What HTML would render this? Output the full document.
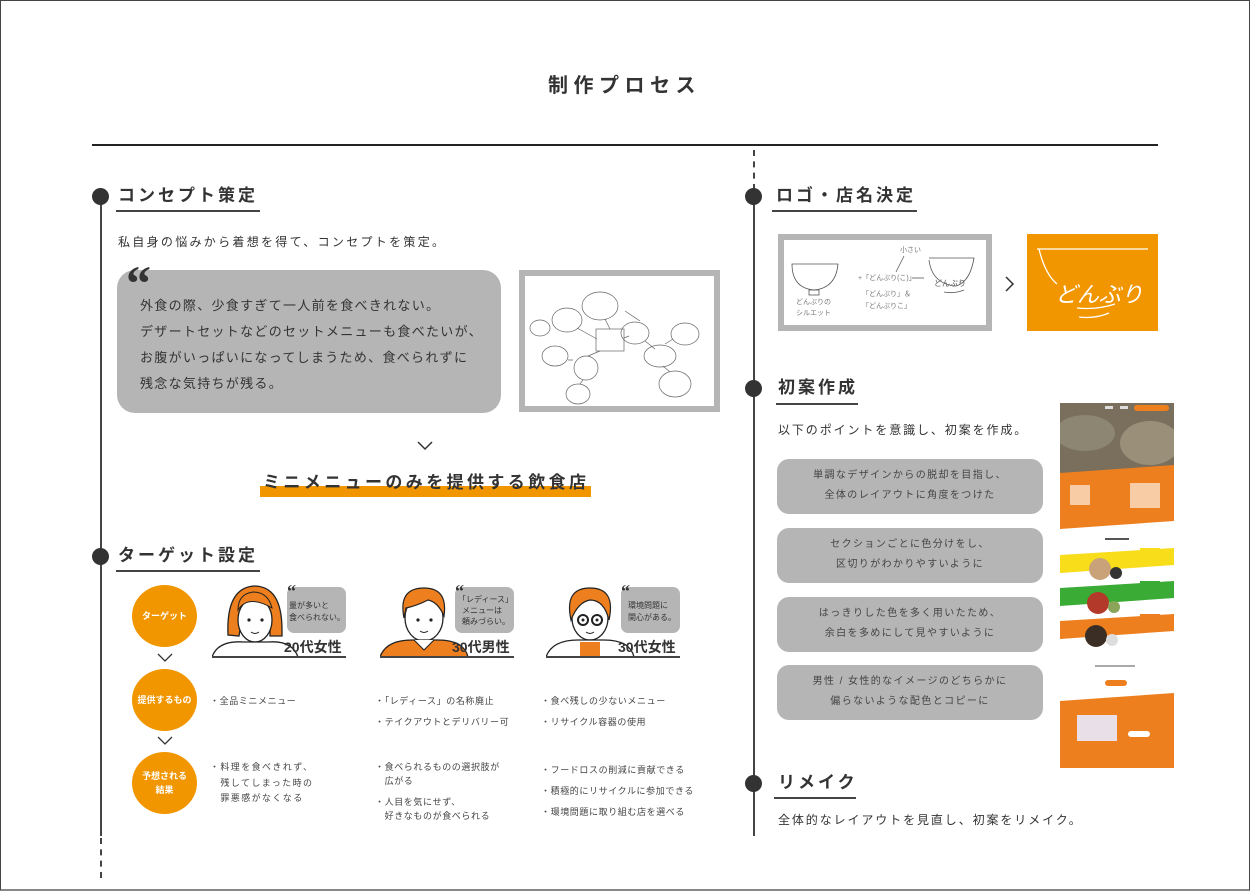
<!DOCTYPE html>
<html><head><meta charset="utf-8">
<style>
*{margin:0;padding:0;box-sizing:border-box}
body{width:1250px;height:891px;position:relative;background:#fff;font-family:"Liberation Sans","Noto Sans CJK JP",sans-serif;color:#333;overflow:hidden}
.a{position:absolute}
.t{position:absolute;white-space:nowrap;line-height:1}
.h{font-size:17px;font-weight:bold;letter-spacing:3px;color:#333}
.ul{position:absolute;height:2px;background:#444}
.dot{position:absolute;width:17px;height:17px;border-radius:50%;background:#333}
.gbox{position:absolute;background:#b5b5b5;border-radius:12px}
.c{position:absolute;width:64px;height:64px;border-radius:50%;background:#f29600;color:#fff;font-size:9px;font-weight:bold;display:flex;align-items:center;justify-content:center;text-align:center;line-height:1.6}
.s{font-size:9px;letter-spacing:0.6px;color:#444;line-height:1.55}
.bt{font-size:10px;letter-spacing:1.4px;color:#444;text-align:center;width:266px;line-height:2;position:absolute}
</style></head><body>
<div class="a" style="left:0;top:0;width:1250px;height:891px;border:1px solid #444;border-bottom:2px solid #888"></div>
<div class="t" style="left:548px;top:76px;font-size:20px;font-weight:bold;letter-spacing:5.5px">制作プロセス</div>
<div class="a" style="left:92px;top:144px;width:1066px;height:1.5px;background:#222"></div>

<div class="a" style="left:100px;top:196px;width:2px;height:640px;background:#444"></div>
<div class="a" style="left:100px;top:838px;width:0;height:40px;border-left:2px dashed #444"></div>
<div class="dot" style="left:92px;top:188px"></div>
<div class="dot" style="left:92px;top:548px"></div>

<div class="t h" style="left:118px;top:187px">コンセプト策定</div>
<div class="ul" style="left:116px;top:210px;width:144px"></div>
<div class="t" style="left:118px;top:236px;font-size:12px;letter-spacing:2.3px">私自身の悩みから着想を得て、コンセプトを策定。</div>

<div class="gbox" style="left:117px;top:270px;width:384px;height:143px;border-radius:18px"></div>
<div class="t" style="left:126px;top:258px;font-size:50px;font-weight:bold;font-family:'Liberation Serif',serif;color:#333">&ldquo;</div>
<div class="a" style="left:140px;top:293px;font-size:13px;letter-spacing:1.3px;line-height:26px;color:#333;white-space:nowrap">外食の際、少食すぎて一人前を食べきれない。<br>デザートセットなどのセットメニューも食べたいが、<br>お腹がいっぱいになってしまうため、食べられずに<br>残念な気持ちが残る。</div>

<div class="a" style="left:519px;top:270px;width:201px;height:142px;border:6px solid #b5b5b5;background:#fff"></div>
<svg class="a" style="left:525px;top:276px" width="189" height="130" viewBox="0 0 189 130" fill="none" stroke="#666" stroke-width="0.7">
<ellipse cx="75" cy="30" rx="18" ry="14"/><ellipse cx="42" cy="44" rx="15" ry="12"/><ellipse cx="15" cy="52" rx="10" ry="8"/>
<ellipse cx="110" cy="57" rx="14" ry="11"/><rect x="71" y="53" width="28" height="22"/><ellipse cx="160" cy="58" rx="14" ry="11"/>
<ellipse cx="30" cy="80" rx="13" ry="10"/><ellipse cx="61" cy="92" rx="12" ry="12"/><ellipse cx="135" cy="80" rx="16" ry="11"/>
<ellipse cx="150" cy="108" rx="16" ry="13"/><ellipse cx="53" cy="118" rx="12" ry="10"/>
<path d="M85 53 L80 43 M72 63 L52 52 M99 62 L104 60 M115 45 L100 35 M130 73 L120 65 M140 68 L148 63 M138 90 L145 96 M63 80 L75 75 M48 84 L43 84 M58 104 L55 108"/></svg>

<svg class="a" style="left:417px;top:441px" width="16" height="10"><path d="M1 1 L8 8 L15 1" stroke="#333" stroke-width="1.5" fill="none"/></svg>
<div class="a" style="left:260px;top:486px;width:331px;height:11px;background:#f29600"></div>
<div class="t" style="left:263px;top:474px;font-size:17px;font-weight:bold;letter-spacing:3.4px;color:#333">ミニメニューのみを提供する飲食店</div>

<div class="t h" style="left:118px;top:547px">ターゲット設定</div>
<div class="ul" style="left:116px;top:570px;width:144px"></div>

<div class="c" style="left:132px;top:585px;width:65px;height:62px">ターゲット</div>
<div class="c" style="left:132px;top:669px;width:65px;height:62px">提供するもの</div>
<div class="c" style="left:132px;top:752px;width:65px;height:62px">予想される<br>結果</div>
<svg class="a" style="left:157px;top:653px" width="16" height="10"><path d="M1 1 L8 8 L15 1" stroke="#333" stroke-width="1.3" fill="none"/></svg>
<svg class="a" style="left:157px;top:736px" width="16" height="10"><path d="M1 1 L8 8 L15 1" stroke="#333" stroke-width="1.3" fill="none"/></svg>

<svg class="a" style="left:212px;top:580px" width="140" height="80">
<path d="M16 55 Q14 8 42 6 Q70 6 70 50 L70 56 L58 56 L58 30 Q42 32 32 25 L27 56 Z" fill="#ee7f1e" stroke="#222" stroke-width="1.3"/>
<ellipse cx="43" cy="40" rx="17" ry="22" fill="#fff" stroke="#222" stroke-width="1.3"/>
<path d="M26 30 Q36 14 60 28 Q56 12 41 12 Q26 14 26 30Z" fill="#ee7f1e" stroke="#222" stroke-width="1"/>
<circle cx="37" cy="40" r="1.6" fill="#222"/><circle cx="50" cy="40" r="1.6" fill="#222"/>
<path d="M39 52 Q43 55 47 52" stroke="#222" fill="none"/>
<path d="M0 77 Q6 60 32 62 L56 62 Q80 60 86 77" fill="#fff" stroke="#222" stroke-width="1.3"/>
<rect x="0" y="76" width="134" height="2" fill="#444"/>
<rect x="75" y="7" width="59" height="46" rx="7" fill="#b5b5b5"/>
<text x="75" y="17" font-size="18" font-weight="bold" fill="#333" font-family="Liberation Serif">&#8220;</text>
<text x="77" y="28" font-size="8" fill="#333">量が多いと</text><text x="77" y="40" font-size="8" fill="#333">食べられない。</text>
<text x="72" y="72" font-size="14" font-weight="bold" fill="#333">20代女性</text>
</svg>
<svg class="a" style="left:380px;top:580px" width="140" height="80">
<ellipse cx="44" cy="38" rx="19" ry="23" fill="#fff" stroke="#222" stroke-width="1.3"/>
<path d="M24 38 Q18 8 44 8 Q68 8 64 36 Q58 22 48 20 Q36 26 26 28 Z" fill="#ee7f1e" stroke="#222" stroke-width="1.2"/>
<circle cx="38" cy="40" r="1.6" fill="#222"/><circle cx="51" cy="40" r="1.6" fill="#222"/>
<path d="M40 51 Q44 54 48 51" stroke="#222" fill="none"/>
<path d="M0 77 Q6 60 32 60 L58 60 Q84 60 88 77Z" fill="#ee7f1e" stroke="#222" stroke-width="1.3"/>
<path d="M34 60 L44 70 L54 60" fill="#fff" stroke="#222"/>
<rect x="0" y="76" width="134" height="2" fill="#444"/>
<rect x="75" y="7" width="59" height="46" rx="7" fill="#b5b5b5"/>
<text x="75" y="17" font-size="18" font-weight="bold" fill="#333" font-family="Liberation Serif">&#8220;</text>
<text x="78" y="22" font-size="8" fill="#333">「レディース」</text><text x="82" y="33" font-size="8" fill="#333">メニューは</text><text x="82" y="44" font-size="8" fill="#333">頼みづらい。</text>
<text x="72" y="72" font-size="14" font-weight="bold" fill="#333">30代男性</text>
</svg>
<svg class="a" style="left:546px;top:580px" width="140" height="80">
<ellipse cx="44" cy="38" rx="18" ry="22" fill="#fff" stroke="#222" stroke-width="1.3"/>
<path d="M25 40 Q18 8 44 8 Q70 8 63 40 Q58 20 44 20 Q32 22 25 40Z" fill="#ee7f1e" stroke="#222" stroke-width="1.2"/>
<circle cx="37" cy="40" r="5" fill="none" stroke="#222" stroke-width="2"/><circle cx="51" cy="40" r="5" fill="none" stroke="#222" stroke-width="2"/>
<circle cx="37" cy="40" r="1.5" fill="#222"/><circle cx="51" cy="40" r="1.5" fill="#222"/>
<path d="M40 52 Q44 55 48 52" stroke="#222" fill="none"/>
<path d="M0 77 Q6 60 32 60 L58 60 Q84 60 88 77Z" fill="#fff" stroke="#222" stroke-width="1.3"/>
<rect x="34" y="62" width="20" height="15" fill="#ee7f1e"/>
<rect x="0" y="76" width="134" height="2" fill="#444"/>
<rect x="75" y="7" width="59" height="46" rx="7" fill="#b5b5b5"/>
<text x="75" y="17" font-size="18" font-weight="bold" fill="#333" font-family="Liberation Serif">&#8220;</text>
<text x="82" y="28" font-size="8" fill="#333">環境問題に</text><text x="82" y="40" font-size="8" fill="#333">関心がある。</text>
<text x="72" y="72" font-size="14" font-weight="bold" fill="#333">30代女性</text>
</svg>

<div class="a s" style="left:210px;top:691px;line-height:21px">・全品ミニメニュー</div>
<div class="a s" style="left:375px;top:691px;line-height:21px">・「レディース」の名称廃止<br>・テイクアウトとデリバリー可</div>
<div class="a s" style="left:541px;top:691px;line-height:21px">・食べ残しの少ないメニュー<br>・リサイクル容器の使用</div>
<div class="a s" style="left:210px;top:760px;line-height:15.5px;letter-spacing:1.4px">・料理を食べきれず、<br>　残してしまった時の<br>　罪悪感がなくなる</div>
<div class="a s" style="left:375px;top:760px;line-height:14px">・食べられるものの選択肢が<br>　広がる</div>
<div class="a s" style="left:375px;top:795px;line-height:14px">・人目を気にせず、<br>　好きなものが食べられる</div>
<div class="a s" style="left:541px;top:760px;line-height:21px">・フードロスの削減に貢献できる<br>・積極的にリサイクルに参加できる<br>・環境問題に取り組む店を選べる</div>

<div class="a" style="left:753px;top:150px;width:0;height:40px;border-left:2px dashed #444"></div>
<div class="a" style="left:753px;top:196px;width:2px;height:640px;background:#444"></div>
<div class="dot" style="left:745px;top:188px"></div>
<div class="dot" style="left:745px;top:380px"></div>
<div class="dot" style="left:745px;top:775px"></div>

<div class="t h" style="left:776px;top:187px">ロゴ・店名決定</div>
<div class="ul" style="left:772px;top:210px;width:145px"></div>
<div class="a" style="left:778px;top:234px;width:214px;height:97px;border:6px solid #b5b5b5;background:#fff"></div>
<svg class="a" style="left:784px;top:240px" width="202" height="85" fill="none" stroke="#555" stroke-width="0.8">
<path d="M8 24 Q8 48 30 50 Q52 48 54 24 Z"/><rect x="25" y="50" width="10" height="5"/>
<text x="12" y="64" font-size="7" fill="#777" stroke="none">どんぶりの</text><text x="12" y="75" font-size="7" fill="#777" stroke="none">シルエット</text>
<text x="74" y="40" font-size="7" fill="#777" stroke="none">+「どんぶり(こ)」</text><text x="78" y="56" font-size="7" fill="#777" stroke="none">「どんぶり」＆</text><text x="78" y="68" font-size="7" fill="#777" stroke="none">「どんぶりこ」</text>
<text x="116" y="12" font-size="7" fill="#777" stroke="none">小さい</text><path d="M120 16 L112 32"/>
<path d="M128 38 L140 38"/><path d="M145 20 Q148 44 172 46 Q186 42 190 18 L145 18"/>
<text x="150" y="46" font-size="8" fill="#555" stroke="none">どんぶり</text><path d="M160 52 Q170 54 180 50"/>
</svg>
<svg class="a" style="left:1005px;top:276px" width="10" height="16"><path d="M1 1 L8 8 L1 15" stroke="#333" stroke-width="1.5" fill="none"/></svg>
<div class="a" style="left:1027px;top:234px;width:131px;height:97px;background:#f29600"></div>
<svg class="a" style="left:1027px;top:234px" width="131" height="97" fill="none" stroke="#fff" stroke-width="1.3">
<path d="M10 15 L121 15"/><path d="M12 15 Q18 40 30 50"/>
<text x="28" y="68" font-size="22" fill="#fff" stroke="none" font-style="italic">どんぶり</text>
<path d="M50 74 Q70 76 88 70"/><path d="M52 83 Q68 85 82 79"/>
</svg>

<div class="t h" style="left:778px;top:379px">初案作成</div>
<div class="ul" style="left:776px;top:403px;width:82px"></div>
<div class="t" style="left:778px;top:424px;font-size:12px;letter-spacing:1.9px">以下のポイントを意識し、初案を作成。</div>
<div class="gbox" style="left:777px;top:459px;width:266px;height:55px"></div>
<div class="bt" style="left:777px;top:466px">単調なデザインからの脱却を目指し、<br>全体のレイアウトに角度をつけた</div>
<div class="gbox" style="left:777px;top:528px;width:266px;height:55px"></div>
<div class="bt" style="left:777px;top:535px">セクションごとに色分けをし、<br>区切りがわかりやすいように</div>
<div class="gbox" style="left:777px;top:597px;width:266px;height:55px"></div>
<div class="bt" style="left:777px;top:604px">はっきりした色を多く用いたため、<br>余白を多めにして見やすいように</div>
<div class="gbox" style="left:777px;top:665px;width:266px;height:55px"></div>
<div class="bt" style="left:777px;top:672px">男性 / 女性的なイメージのどちらかに<br>偏らないような配色とコピーに</div>

<svg class="a" style="left:1060px;top:403px" width="114" height="365">
<rect x="0" y="0" width="114" height="70" fill="#7a6f5c"/>
<ellipse cx="25" cy="30" rx="30" ry="18" fill="#8d8672"/><ellipse cx="90" cy="40" rx="30" ry="22" fill="#9a8f78"/>
<rect x="74" y="2" width="35" height="6" rx="3" fill="#ee7f1e"/>
<rect x="60" y="3" width="8" height="3" fill="#ddd"/><rect x="45" y="3" width="8" height="3" fill="#ddd"/>
<polygon points="0,70 114,62 114,118 0,126" fill="#ee7f1e"/>
<rect x="10" y="82" width="20" height="20" fill="#fff" opacity=".6"/><rect x="70" y="80" width="30" height="25" fill="#fff" opacity=".6"/>
<rect x="45" y="135" width="24" height="2" fill="#555"/>
<polygon points="0,152 114,145 114,162 0,170" fill="#f7dd1a"/>
<polygon points="0,185 114,178 114,195 0,203" fill="#3aab35"/>
<polygon points="0,218 114,211 114,228 0,236" fill="#ee7f1e"/>
<circle cx="40" cy="166" r="11" fill="#c9a27a"/><circle cx="38" cy="200" r="11" fill="#b33a2a"/><circle cx="36" cy="233" r="11" fill="#3b2f25"/>
<circle cx="56" cy="170" r="6" fill="#333"/><circle cx="54" cy="204" r="6" fill="#8aa45a"/><circle cx="52" cy="237" r="6" fill="#ddd"/>
<rect x="80" y="145" width="20" height="3" fill="#f7dd1a"/><rect x="80" y="178" width="20" height="3" fill="#3aab35"/><rect x="80" y="211" width="20" height="3" fill="#ee7f1e"/>
<rect x="35" y="262" width="40" height="2" fill="#aaa"/>
<rect x="45" y="277" width="22" height="6" rx="3" fill="#ee7f1e"/>
<polygon points="0,298 114,290 114,365 0,365" fill="#ee7f1e"/>
<rect x="17" y="312" width="40" height="26" fill="#e8dfe8"/><rect x="68" y="328" width="22" height="6" rx="3" fill="#fff"/>
</svg>

<div class="t h" style="left:778px;top:774px">リメイク</div>
<div class="ul" style="left:774px;top:797px;width:82px"></div>
<div class="t" style="left:778px;top:814px;font-size:12px;letter-spacing:1.9px">全体的なレイアウトを見直し、初案をリメイク。</div>
</body></html>
